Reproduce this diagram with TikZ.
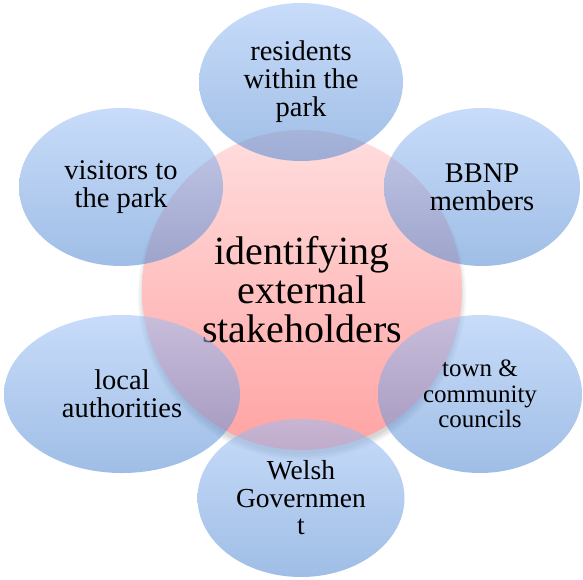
\documentclass[tikz,border=0pt]{standalone}
\usepackage{fontspec}
\setmainfont{Liberation Serif}
\usetikzlibrary{shapes.geometric}
\definecolor{petaltop}{RGB}{155,191,245}
\definecolor{petalbot}{RGB}{80,136,209}
\definecolor{hubtop}{RGB}{255,222,222}
\definecolor{hubbot}{RGB}{255,163,163}
\begin{document}
\begin{tikzpicture}[x=1pt,y=-1pt,
  petal/.style={ellipse, minimum width=204pt, minimum height=158pt, inner sep=0pt,
    top color=petaltop, bottom color=petalbot, shading=axis,
    fill opacity=0.55, text opacity=1, align=center,
    font=\fontsize{28.5}{28}\selectfont},
  hub/.style={circle, minimum size=320pt, inner sep=0pt,
    top color=hubtop, bottom color=hubbot, shading=axis, align=center,
    font=\fontsize{40}{39}\selectfont}]
\useasboundingbox (0,0) rectangle (583,579);

% soft shadow under the central disc, mostly below it
\foreach \r in {158,159.5,161,162.5,164}
  \fill[black, opacity=0.035] (302,296) circle [radius=\r pt];

\node[hub] (hub) at (302,290) {identifying\\external\\stakeholders};

\node[petal] (residents) at (301,82) {residents\\within the\\park};
\node[petal] (visitors) at (121,187) {visitors to\\the park};
\node[petal, minimum width=196pt] (bbnp) at (482,187) {BBNP\\members};
\node[petal, minimum width=236pt] (local) at (122,394) {local\\authorities};
\node[petal, font=\fontsize{25}{25.5}\selectfont] (town) at (480,394) {town \&\\community\\councils};
\node[petal, minimum width=207pt, font=\fontsize{27.5}{27.5}\selectfont] (welsh) at (301,498) {Welsh\\Governmen\\t};
\end{tikzpicture}
\end{document}
